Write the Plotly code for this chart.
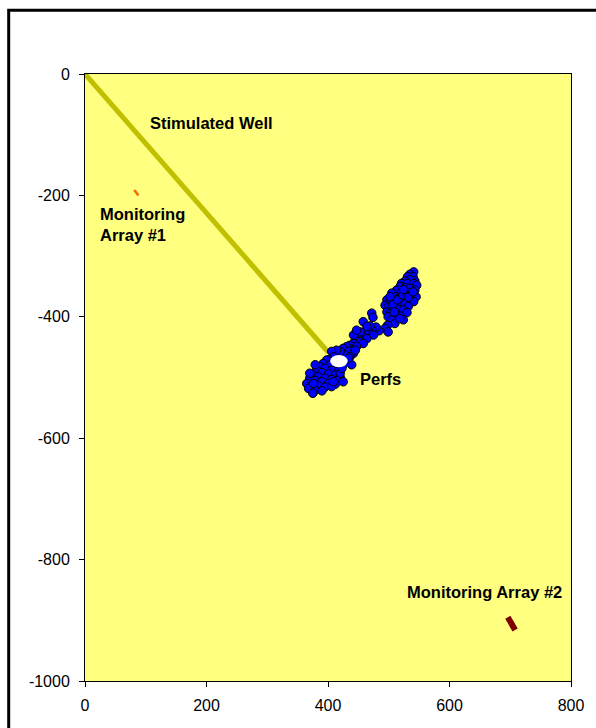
import plotly.graph_objects as go

# Microseismic event locations (plan view, ft)
event_x = [
    541, 535, 531, 540, 543, 535, 527, 521, 530, 541, 546, 519, 527, 535, 543,
    513, 521, 530, 538, 545, 505, 510, 519, 527, 535, 541, 497, 502, 510, 519,
    527, 532, 494, 499, 508, 516, 524, 530, 497, 503, 512, 519, 524, 499, 505,
    510, 498, 494, 499, 518, 507, 514, 523, 532, 540, 524, 509, 502,
    472, 474, 458, 484,
    479, 472, 467, 475, 461, 456, 464, 450, 445, 453, 458, 442, 436, 447, 439,
    431, 425, 434, 442, 428, 420, 414, 436, 469, 453, 442, 464, 447, 445,
    406, 409, 402, 431, 439, 425, 409, 434,
    398, 392, 403, 414, 387, 395, 406, 417, 381, 390, 401, 412, 420, 376, 384,
    395, 406, 415, 370, 379, 390, 401, 412, 365, 373, 384, 395, 406, 368, 379,
    390, 375, 409, 420, 376, 379, 370, 423, 425,
]
event_y = [
    -326, -330, -334, -334, -341, -339, -341, -345, -345, -345, -348, -350, -352, -353, -356,
    -356, -359, -360, -362, -367, -361, -367, -367, -370, -371, -375, -372, -375, -378, -378,
    -379, -383, -381, -384, -386, -388, -389, -393, -392, -394, -395, -399, -405, -400, -405,
    -411, -414, -419, -425, -403, -380, -372, -364, -368, -359, -355, -392, -367,
    -394, -401, -408, -423,
    -417, -422, -427, -430, -425, -432, -436, -434, -438, -441, -444, -444, -447, -449, -455,
    -449, -452, -457, -460, -463, -457, -455, -466, -415, -425, -430, -416, -422, -455,
    -457, -466, -471, -474, -479, -479, -482, -468,
    -471, -477, -479, -485, -482, -485, -488, -490, -488, -492, -494, -496, -499, -496, -499,
    -501, -503, -505, -501, -505, -507, -510, -511, -510, -512, -514, -516, -515, -518, -521,
    -522, -526, -507, -493, -510, -479, -493, -485, -507,
]

# Stimulated well trajectory
well_x = [0, 400]
well_y = [0, -458]

# Monitoring arrays
array1_x = [81, 88]
array1_y = [-191, -200]
array2_x = [696, 708]
array2_y = [-895, -916]

# Perforation location and ellipse half-widths
perf_x, perf_y = 418, -473
perf_rx, perf_ry = 14.5, 10

x_ticks = [0, 200, 400, 600, 800]
y_ticks = [0, -200, -400, -600, -800, -1000]

fig = go.Figure()

fig.add_trace(go.Scatter(
    x=well_x, y=well_y, mode="lines",
    line=dict(color="#C0C000", width=5), hoverinfo="skip",
))
fig.add_trace(go.Scatter(
    x=array1_x, y=array1_y, mode="lines",
    line=dict(color="#FF6600", width=2.5), hoverinfo="skip",
))
fig.add_trace(go.Scatter(
    x=array2_x, y=array2_y, mode="lines",
    line=dict(color="#800000", width=6), hoverinfo="skip",
))
fig.add_trace(go.Scatter(
    x=event_x, y=event_y, mode="markers",
    marker=dict(color="#0000FF", size=8.5, line=dict(color="black", width=1)),
))

# Perforation marker (white ellipse)
fig.add_shape(
    type="circle", xref="x", yref="y", layer="above",
    x0=perf_x - perf_rx, x1=perf_x + perf_rx,
    y0=perf_y - perf_ry, y1=perf_y + perf_ry,
    fillcolor="white", line=dict(color="white", width=0),
)

# Chart-area border
fig.add_shape(
    type="rect", xref="paper", yref="paper",
    x0=-0.157, x1=1.2, y0=-0.2, y1=1.105,
    line=dict(color="black", width=3), fillcolor="rgba(0,0,0,0)", layer="above",
)

label_font = dict(family="Arial, Liberation Sans, sans-serif", size=16.5, color="black")
labels = [
    ("<b>Stimulated Well</b>", 104, -81),
    ("<b>Monitoring<br>Array #1</b>", 21, -248),
    ("<b>Perfs</b>", 449, -502),
    ("<b>Monitoring Array #2</b>", 527, -853),
]
for text, lx, ly in labels:
    fig.add_annotation(
        x=lx, y=ly, xref="x", yref="y", text=text, showarrow=False,
        xanchor="left", yanchor="middle", align="left", font=label_font,
    )

axis_common = dict(
    showgrid=False, zeroline=False, showline=True, mirror=True,
    linecolor="black", linewidth=1, ticks="outside", ticklen=5,
    tickcolor="black", tickwidth=1,
    tickfont=dict(family="Arial, Liberation Sans, sans-serif", size=16, color="black"),
)

fig.update_layout(
    width=596, height=728,
    margin=dict(l=85, r=25, t=74, b=47),
    paper_bgcolor="white", plot_bgcolor="#FFFF80",
    showlegend=False,
    xaxis=dict(range=[0, 800], tickvals=x_ticks,
               ticktext=[str(v) for v in x_ticks],
               ticklabelstandoff=5, **axis_common),
    yaxis=dict(range=[-1000, 0], tickvals=y_ticks,
               ticktext=[str(v) for v in y_ticks],
               ticklabelstandoff=6, **axis_common),
)

fig.write_html("out.html")
